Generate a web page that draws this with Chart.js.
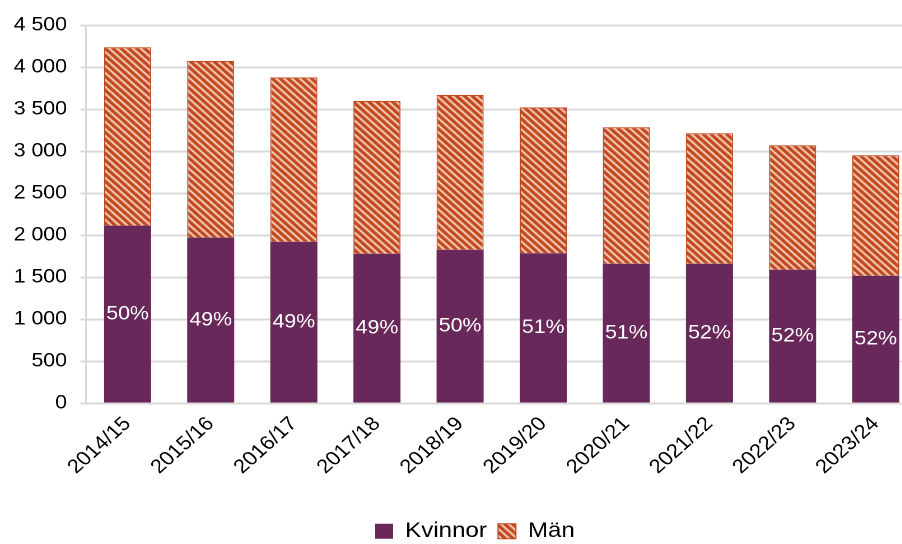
<!DOCTYPE html>
<html>
<head>
<meta charset="utf-8">
<script src="https://cdn.jsdelivr.net/npm/chart.js@4.4.1/dist/chart.umd.min.js"></script>
<style>
  html, body { margin: 0; padding: 0; background: #fff; overflow: hidden; width: 902px; height: 544px; }
  #wrap { width: 854px; height: 552px; transform: scaleX(1.12); transform-origin: 0 0; }
</style>
</head>
<body>
<div id="wrap"><canvas id="c" width="854" height="552"></canvas></div>
<script>
const categories = ['2014/15','2015/16','2016/17','2017/18','2018/19','2019/20','2020/21','2021/22','2022/23','2023/24'];
const kvinnor = [2117, 1974, 1926, 1783, 1831, 1788, 1664, 1664, 1593, 1521];
const man = [2124, 2103, 1957, 1818, 1842, 1738, 1624, 1553, 1481, 1434];
const andelKvinnor = ['50%','49%','49%','49%','50%','51%','51%','52%','52%','52%'];
const yTickLabels = ['0','500','1 000','1 500','2 000','2 500','3 000','3 500','4 000','4 500'];

const FONT = '"Liberation Sans", Arial, sans-serif';

function makeHatch() {
  const t = 7;
  const c = document.createElement('canvas');
  c.width = t; c.height = t;
  const g = c.getContext('2d');
  g.fillStyle = '#c1461c';
  g.fillRect(0, 0, t, t);
  for (let y = 0; y < t; y++) {
    for (let x = 0; x < t; x++) {
      const m = ((x - y) % t + t) % t;
      if (m === 0) { g.fillStyle = '#fcece3'; g.fillRect(x, y, 1, 1); }
      else if (m === 1) { g.fillStyle = '#f2c2ab'; g.fillRect(x, y, 1, 1); }
      else if (m === t - 1) { g.fillStyle = '#e29a7a'; g.fillRect(x, y, 1, 1); }
    }
  }
  return document.getElementById('c').getContext('2d').createPattern(c, 'repeat');
}

const pctLabels = {
  id: 'pctLabels',
  afterDatasetsDraw(chart) {
    const ctx = chart.ctx;
    const meta = chart.getDatasetMeta(0);
    ctx.save();
    ctx.fillStyle = '#ffffff';
    ctx.font = '19px ' + FONT;
    ctx.textAlign = 'center';
    ctx.textBaseline = 'middle';
    meta.data.forEach((bar, i) => {
      const y = (bar.y + bar.base) / 2;
      ctx.fillText(andelKvinnor[i], bar.x, y);
    });
    ctx.restore();
  }
};

const legendShift = {
  id: 'legendShift',
  afterLayout(chart) {
    const lg = chart.legend;
    if (lg) { lg.left += 14.6; lg.right += 14.6; }
  }
};

new Chart(document.getElementById('c'), {
  type: 'bar',
  data: {
    labels: categories,
    datasets: [
      { label: 'Kvinnor', data: kvinnor, backgroundColor: '#68285a', borderWidth: 0,
        barPercentage: 0.566, categoryPercentage: 1 },
      { label: 'Män', data: man, backgroundColor: makeHatch(), borderColor: '#c1461c', borderWidth: 1,
        barPercentage: 0.566, categoryPercentage: 1 }
    ]
  },
  options: {
    responsive: false,
    animation: false,
    devicePixelRatio: 2,
    layout: { padding: { top: 25.5, right: 35, bottom: 0, left: 0 } },
    plugins: {
      legend: {
        position: 'bottom',
        labels: {
          font: { family: FONT, size: 21.5 },
          color: '#000',
          boxWidth: 16,
          boxHeight: 15,
          padding: 10
        }
      },
      tooltip: { enabled: false }
    },
    scales: {
      x: {
        stacked: true,
        grid: { display: false, drawTicks: false },
        border: { display: true, color: '#d9d9d9', width: 2 },
        ticks: {
          font: { family: FONT, size: 19.5 },
          color: '#000',
          minRotation: 45,
          maxRotation: 45,
          padding: 9
        },
        afterFit(scale) { scale.height = 107; }
      },
      y: {
        stacked: true,
        min: 0,
        max: 4500,
        grid: { color: '#d9d9d9', lineWidth: 2, tickLength: 5 },
        border: { display: true, color: '#d9d9d9', width: 1.5 },
        ticks: {
          stepSize: 500,
          font: { family: FONT, size: 19 },
          color: '#000',
          padding: 12,
          callback: (v, i) => yTickLabels[i]
        },
        afterFit(scale) { scale.width = 76.8; }
      }
    }
  },
  plugins: [pctLabels, legendShift]
});
</script>
</body>
</html>
